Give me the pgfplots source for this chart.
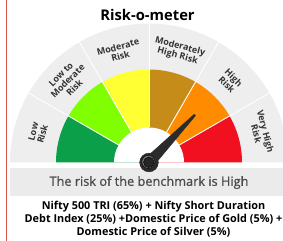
\documentclass[border=0pt]{standalone}
\usepackage{fontspec}
\setmainfont{Open Sans}
\newfontfamily\semib[FakeBold=0.6]{Open Sans}
\usepackage{pgfplots}
\pgfplotsset{compat=1.18}
\usetikzlibrary{calc}
\definecolor{ringgray}{HTML}{EEEEEE}
\definecolor{boxgray}{HTML}{EBEBEB}
\definecolor{cLow}{HTML}{0B9F4A}
\definecolor{cLowMod}{HTML}{80FF00}
\definecolor{cMod}{HTML}{FFFF33}
\definecolor{cModHigh}{HTML}{C68C1A}
\definecolor{cHigh}{HTML}{FF8C00}
\definecolor{cVHigh}{HTML}{F0101F}
\definecolor{labtext}{HTML}{333333}
\definecolor{boxtext}{HTML}{4A4A4A}
\definecolor{redline}{HTML}{D9534F}
\definecolor{needle}{HTML}{2B2B2B}
\begin{document}
\begin{tikzpicture}
\path (0bp,0bp) rectangle (283bp,240bp);
\begin{axis}[at={(0bp,0bp)}, anchor=south west, x=1bp, y=1bp,
  xmin=0, xmax=283, ymin=0, ymax=240, hide axis, clip=false]
\coordinate (C) at (axis cs:149,78);
% left red rule
\draw[redline, line width=1bp] (axis cs:6,0) -- (axis cs:6,240);
% outer gray half ring
\fill[ringgray, overlay] (C) -- ++(0:139bp) arc[start angle=0, end angle=180, radius=139bp] -- cycle;
% colored segments
\fill[cLow] (C) -- ++(150:93bp) arc[start angle=150, end angle=180, radius=93bp] -- cycle;
\fill[cLowMod] (C) -- ++(120:93bp) arc[start angle=120, end angle=150, radius=93bp] -- cycle;
\fill[cMod] (C) -- ++(90:93bp) arc[start angle=90, end angle=120, radius=93bp] -- cycle;
\fill[cModHigh] (C) -- ++(60:93bp) arc[start angle=60, end angle=90, radius=93bp] -- cycle;
\fill[cHigh] (C) -- ++(30:93bp) arc[start angle=30, end angle=60, radius=93bp] -- cycle;
\fill[cVHigh] (C) -- ++(0:93bp) arc[start angle=0, end angle=30, radius=93bp] -- cycle;
\fill[white] (C) -- ++(0:35bp) arc[start angle=0, end angle=180, radius=35bp] -- cycle;
\draw[white, line width=0.9bp] ($(C)+(30:35bp)$) -- ($(C)+(30:139bp)$);
\draw[white, line width=0.9bp] ($(C)+(60:35bp)$) -- ($(C)+(60:139bp)$);
\draw[white, line width=0.9bp] ($(C)+(90:35bp)$) -- ($(C)+(90:139bp)$);
\draw[white, line width=0.9bp] ($(C)+(120:35bp)$) -- ($(C)+(120:139bp)$);
\draw[white, line width=0.9bp] ($(C)+(150:35bp)$) -- ($(C)+(150:139bp)$);
% labels
\begin{scope}[every node/.style={align=center, text=labtext, font=\fontsize{9}{9.6}\selectfont\bfseries, inner sep=0pt}]
\node[rotate=75] at ($(C)+(165:115bp)$) {Low\\Risk};
\node[rotate=45] at ($(C)+(135:115bp)$) {Low to\\Moderate\\Risk};
\node[rotate=15] at ($(C)+(105:115bp)$) {Moderate\\Risk};
\node[rotate=-15] at ($(C)+(75:115bp)$) {Moderately\\High Risk};
\node[rotate=-45] at ($(C)+(45:115bp)$) {High\\Risk};
\node[rotate=-75, overlay] at ($(C)+(15:116bp)$) {Very High\\Risk};
\end{scope}
% needle (points at High)
\addplot[fill=needle, draw=needle, line width=0.3bp] coordinates {(144.9,81.9) (194.1,126.2) (195.5,124.8) (153.1,74.1) (144.9,81.9)};
\addplot[only marks, mark=*, mark size=9.4pt, mark options={fill=needle, draw=needle}] coordinates {(149,78)};
\addplot[only marks, mark=*, mark size=6.6pt, mark options={fill=black!55, draw=none}] coordinates {(148.4,78.6)};
\addplot[only marks, mark=*, mark size=5.3pt, mark options={fill=black!85, draw=none}] coordinates {(148.8,78.2)};
% gray box
\fill[boxgray] (axis cs:10,44) rectangle (axis cs:283,72);
\node[text=boxtext, font=\fontsize{12.8}{14}\semib] at (axis cs:149,58) {The risk of the benchmark is High};
% title
\node[text=black, font=\fontsize{14.8}{16}\selectfont\bfseries] at (axis cs:147.5,226) {Risk-o-meter};
% bottom text
\node[overlay, align=center, font=\fontsize{10.9}{13}\selectfont\bfseries, text=black] at (axis cs:153.5,21) {Nifty 500 TRI (65\%) + Nifty Short Duration\\Debt Index (25\%) +Domestic Price of Gold (5\%) +\\Domestic Price of Silver (5\%)};
\end{axis}
\end{tikzpicture}
\end{document}
